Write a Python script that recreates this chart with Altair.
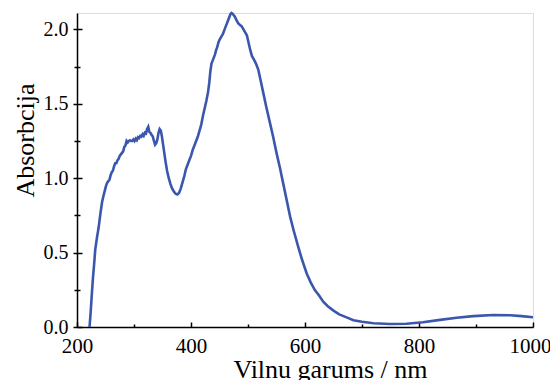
import altair as alt
import pandas as pd

wavelength = [222, 224, 226, 228, 230, 232, 235, 238, 241, 244, 247, 249, 251, 253, 255, 257, 259, 261, 263, 265,
              267, 269, 271, 273, 275, 277, 279, 281, 283, 285, 287, 289, 291, 293, 295, 297, 299, 301, 303, 305,
              307, 309, 311, 313, 315, 317, 319, 321, 323, 325, 327, 329, 331, 333, 335, 337, 339, 341, 343, 345,
              347, 349, 352, 355, 358, 361, 364, 367, 370, 373, 376, 379, 382, 385, 388, 391, 394, 397, 400, 403,
              406, 409, 412, 415, 418, 421, 424, 427, 430, 432, 434, 436, 438, 440, 442, 444, 446, 448, 450, 453,
              456, 459, 462, 465, 467, 469, 471, 473, 475, 477, 480, 483, 486, 489, 492, 495, 498, 501, 504, 507,
              510, 514, 518, 522, 527, 532, 538, 544, 550, 556, 562, 568, 574, 580, 588, 595, 603, 610, 617, 625,
              632, 640, 650, 660, 673, 685, 700, 720, 749, 778, 807, 837, 866, 895, 930, 960, 980, 1000]
absorbance = [0.00, 0.10, 0.22, 0.33, 0.42, 0.52, 0.60, 0.67, 0.76, 0.84, 0.89, 0.92, 0.95, 0.97, 0.98, 0.99, 1.02, 1.04, 1.05, 1.08,
              1.10, 1.10, 1.12, 1.13, 1.15, 1.16, 1.17, 1.18, 1.21, 1.22, 1.25, 1.24, 1.25, 1.255, 1.25, 1.25, 1.26, 1.25, 1.265, 1.255,
              1.275, 1.27, 1.285, 1.28, 1.295, 1.285, 1.305, 1.30, 1.33, 1.345, 1.31, 1.305, 1.29, 1.28, 1.25, 1.225, 1.235, 1.26, 1.305, 1.33,
              1.32, 1.28, 1.20, 1.12, 1.05, 1.00, 0.96, 0.93, 0.91, 0.895, 0.89, 0.90, 0.93, 0.97, 1.01, 1.06, 1.09, 1.12, 1.15, 1.19,
              1.22, 1.25, 1.28, 1.32, 1.36, 1.42, 1.47, 1.52, 1.58, 1.64, 1.72, 1.77, 1.79, 1.81, 1.83, 1.86, 1.88, 1.91, 1.93, 1.95,
              1.97, 2.00, 2.03, 2.06, 2.08, 2.10, 2.11, 2.105, 2.095, 2.085, 2.06, 2.04, 2.03, 2.02, 2.00, 1.98, 1.96, 1.91, 1.86, 1.82,
              1.80, 1.77, 1.73, 1.66, 1.57, 1.48, 1.38, 1.28, 1.17, 1.07, 0.96, 0.85, 0.74, 0.65, 0.54, 0.45, 0.36, 0.30, 0.25, 0.21,
              0.17, 0.14, 0.11, 0.085, 0.065, 0.045, 0.035, 0.025, 0.020, 0.022, 0.032, 0.048, 0.062, 0.073, 0.081, 0.079, 0.073, 0.066]

x_ticks = [200, 300, 400, 500, 600, 700, 800, 900, 1000]
y_ticks = [0.0, 0.25, 0.5, 0.75, 1.0, 1.25, 1.5, 1.75, 2.0]

df = pd.DataFrame({"nm": wavelength, "A": absorbance})

W, H = 456, 314
FONT = "Liberation Serif"
xscale = alt.Scale(domain=[200, 1000], nice=False, zero=False)
yscale = alt.Scale(domain=[0, 2.11], nice=False, zero=True)

x_major = "datum.value % 200 == 0"
y_major = "(datum.value * 2) % 1 == 0"

main = alt.Chart(df).mark_line(color="#3b56ad", strokeWidth=2.6).encode(
    x=alt.X("nm:Q", scale=xscale, axis=alt.Axis(
        orient="bottom", values=x_ticks, ticks=False, tickSize=0, labelPadding=8,
        labelExpr=f"{x_major} ? datum.label : ''",
        labelOffset={"condition": {"test": "datum.value == 1000", "value": -3}, "value": 0},
        format="d", labelFont=FONT, labelFontSize=21, labelColor="black",
        domainColor="black", domainWidth=1.5, grid=False,
        title="Vilnu garums / nm", titleFont=FONT, titleFontSize=26, titleFontWeight="normal",
        titleColor="black", titleX=253, titleY=50, titleBaseline="alphabetic", titleAlign="center",
        labelFlush=False, labelOverlap=False)),
    y=alt.Y("A:Q", scale=yscale, axis=alt.Axis(
        orient="left", values=y_ticks, tickSize={"condition": {"test": y_major, "value": 4}, "value": 3},
        tickColor="black", tickWidth=1.5, labelPadding=5,
        labelExpr=f"{y_major} ? datum.label : ''",
        format=".1f", labelFont=FONT, labelFontSize=20, labelColor="black",
        domainColor="black", domainWidth=1.5, grid=False,
        title="Absorbcija", titleFont=FONT, titleFontSize=26, titleFontWeight="normal",
        titleColor="black", titleX=-44, titleY=127, titleBaseline="alphabetic", titleAlign="center",
        titleAngle=270, labelFlush=False, labelOverlap=False)),
)

inner = alt.Chart(df).mark_line(opacity=0).encode(
    x=alt.X("nm:Q", scale=xscale, axis=alt.Axis(
        orient="top", offset=-H, values=x_ticks, labels=False, domain=False, grid=False,
        tickSize={"condition": {"test": x_major, "value": 5}, "value": 3},
        tickColor="black", tickWidth=1.5, title=None)),
    y=alt.Y("A:Q", scale=yscale, axis=alt.Axis(
        orient="right", offset=-W, values=y_ticks, labels=False, domain=False, grid=False,
        tickSize={"condition": {"test": y_major, "value": 5}, "value": 3},
        tickColor="black", tickWidth=1.5, title=None)),
)

chart = alt.layer(main, inner).resolve_axis(x="independent", y="independent").properties(
    width=W, height=H,
    autosize=alt.AutoSizeParams(type="none"),
    padding={"left": 69, "top": 5, "right": 17, "bottom": 53},
).configure_view(stroke=None).configure_axis(
    labelFont=FONT, titleFont=FONT
).configure(background="white", font=FONT)

chart.save("out.html", embed_options={"renderer": "svg", "actions": False})
